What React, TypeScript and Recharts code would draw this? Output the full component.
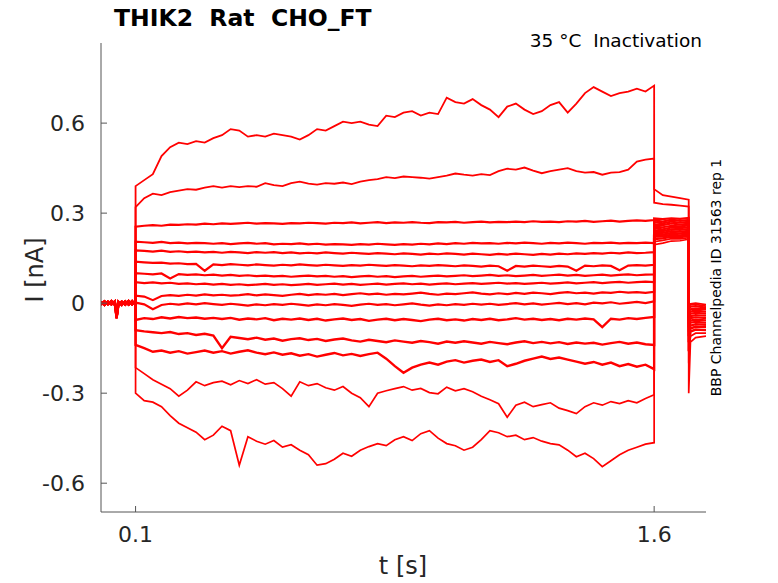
import React from "react";
import { LineChart, Line, XAxis, YAxis } from "recharts";

// holding level before the pre-pulse
const baseTimes = [0, 0.01, 0.02, 0.03, 0.04, 0.045, 0.05, 0.06, 0.07, 0.08, 0.09, 0.1];
const baseline1 = [0.004, -0.006, 0.005, -0.004, 0.006, -0.05, -0.008, 0.005, -0.005, 0.007, -0.004, 0.008];
const baseline2 = [-0.005, 0.006, -0.004, 0.007, -0.006, -0.03, 0.005, -0.006, 0.006, -0.005, 0.007, -0.006];

// pre-pulse, 0.1 .. 1.6 s
const stepTimes = [
  0.1, 0.125, 0.15, 0.175, 0.2, 0.225, 0.25, 0.275, 0.3, 0.325,
  0.35, 0.375, 0.4, 0.425, 0.45, 0.475, 0.5, 0.525, 0.55, 0.575,
  0.6, 0.625, 0.65, 0.675, 0.7, 0.725, 0.75, 0.775, 0.8, 0.825,
  0.85, 0.875, 0.9, 0.925, 0.95, 0.975, 1.0, 1.025, 1.05, 1.075,
  1.1, 1.125, 1.15, 1.175, 1.2, 1.225, 1.25, 1.275, 1.3, 1.325,
  1.35, 1.375, 1.4, 1.425, 1.45, 1.475, 1.5, 1.525, 1.55, 1.575,
  1.6,
];

const traceA = [
  0.39, 0.41, 0.43, 0.49, 0.52, 0.535, 0.53, 0.54, 0.535, 0.55,
  0.56, 0.58, 0.575, 0.555, 0.56, 0.555, 0.565, 0.56, 0.555, 0.545,
  0.56, 0.58, 0.575, 0.59, 0.605, 0.6, 0.605, 0.595, 0.59, 0.625,
  0.62, 0.635, 0.64, 0.625, 0.635, 0.63, 0.685, 0.67, 0.665, 0.68,
  0.66, 0.645, 0.62, 0.655, 0.665, 0.645, 0.63, 0.64, 0.66, 0.67,
  0.635, 0.665, 0.7, 0.72, 0.705, 0.69, 0.7, 0.705, 0.715, 0.705,
  0.725,
];
const traceB = [
  0.32, 0.35, 0.365, 0.36, 0.37, 0.375, 0.38, 0.378, 0.385, 0.39,
  0.385, 0.39, 0.387, 0.39, 0.388, 0.4, 0.393, 0.39, 0.4, 0.405,
  0.398, 0.395, 0.4, 0.398, 0.402, 0.397, 0.405, 0.41, 0.413, 0.42,
  0.417, 0.422, 0.42, 0.418, 0.415, 0.42, 0.425, 0.432, 0.428, 0.425,
  0.43, 0.427, 0.44, 0.448, 0.445, 0.452, 0.442, 0.433, 0.44, 0.445,
  0.45, 0.44, 0.435, 0.437, 0.428, 0.435, 0.437, 0.445, 0.472, 0.478,
  0.482,
];
const traceC = [
  0.255, 0.258, 0.26, 0.258, 0.262, 0.261, 0.263, 0.262, 0.265, 0.263,
  0.266, 0.264, 0.266, 0.268, 0.265, 0.267, 0.266, 0.264, 0.267, 0.266,
  0.268, 0.267, 0.265, 0.268, 0.267, 0.269, 0.266, 0.268, 0.27, 0.267,
  0.269, 0.268, 0.27, 0.268, 0.267, 0.27, 0.269, 0.271, 0.268, 0.27,
  0.272, 0.269, 0.271, 0.27, 0.272, 0.27, 0.273, 0.271, 0.272, 0.27,
  0.273, 0.272, 0.274, 0.271, 0.273, 0.275, 0.272, 0.274, 0.276, 0.274,
  0.277,
];
const traceD = [
  0.205, 0.203, 0.201, 0.204, 0.2, 0.202, 0.199, 0.201, 0.2, 0.198,
  0.2, 0.197, 0.199, 0.201, 0.198, 0.2, 0.196, 0.198, 0.197, 0.199,
  0.196, 0.198, 0.195, 0.197, 0.196, 0.194, 0.197, 0.195, 0.198, 0.196,
  0.194, 0.197, 0.195, 0.198, 0.196, 0.199, 0.197, 0.2, 0.198, 0.201,
  0.199, 0.2, 0.198, 0.201, 0.199, 0.202, 0.2, 0.198, 0.201, 0.199,
  0.202, 0.2, 0.198, 0.201, 0.2, 0.202, 0.199, 0.201, 0.2, 0.202,
  0.2,
];
const traceE = [
  0.176, 0.174, 0.172, 0.175, 0.171, 0.173, 0.17, 0.172, 0.169, 0.171,
  0.168, 0.171, 0.169, 0.167, 0.17, 0.168, 0.17, 0.167, 0.169, 0.166,
  0.168, 0.166, 0.169, 0.167, 0.165, 0.168, 0.166, 0.164, 0.167, 0.165,
  0.163, 0.166, 0.164, 0.162, 0.165, 0.163, 0.166, 0.164, 0.162, 0.165,
  0.163, 0.161, 0.164, 0.162, 0.165, 0.163, 0.161, 0.164, 0.162, 0.165,
  0.163, 0.166, 0.164, 0.167, 0.165, 0.168, 0.166, 0.169, 0.167, 0.168,
  0.17,
];
const traceF = [
  0.138, 0.136, 0.134, 0.135, 0.132, 0.133, 0.13, 0.131, 0.108, 0.129,
  0.127, 0.13, 0.128, 0.126, 0.129, 0.127, 0.125, 0.128, 0.126, 0.129,
  0.127, 0.125, 0.128, 0.126, 0.124, 0.127, 0.125, 0.128, 0.126, 0.124,
  0.127, 0.125, 0.123, 0.126, 0.124, 0.127, 0.125, 0.123, 0.126, 0.124,
  0.122, 0.125, 0.123, 0.108, 0.124, 0.122, 0.125, 0.123, 0.121, 0.124,
  0.122, 0.108, 0.125, 0.123, 0.126, 0.124, 0.11, 0.125, 0.127, 0.125,
  0.128,
];
const traceG = [
  0.1, 0.098, 0.096, 0.099, 0.082, 0.097, 0.094, 0.096, 0.093, 0.095,
  0.092, 0.094, 0.091, 0.093, 0.09, 0.092, 0.089, 0.091, 0.088, 0.09,
  0.092, 0.089, 0.091, 0.088, 0.09, 0.087, 0.089, 0.091, 0.088, 0.09,
  0.087, 0.089, 0.091, 0.088, 0.09, 0.092, 0.089, 0.091, 0.093, 0.09,
  0.092, 0.094, 0.091, 0.093, 0.09, 0.092, 0.094, 0.091, 0.093, 0.095,
  0.092, 0.094, 0.091, 0.093, 0.095, 0.092, 0.094, 0.096, 0.093, 0.095,
  0.096,
];
const traceH = [
  0.07, 0.067, 0.069, 0.066, 0.068, 0.064, 0.066, 0.063, 0.065, 0.062,
  0.064, 0.061, 0.063, 0.06, 0.062, 0.064, 0.061, 0.063, 0.06, 0.062,
  0.064, 0.061, 0.063, 0.065, 0.062, 0.064, 0.061, 0.063, 0.065, 0.062,
  0.064, 0.066, 0.063, 0.065, 0.062, 0.064, 0.066, 0.063, 0.065, 0.067,
  0.064, 0.066, 0.068, 0.065, 0.067, 0.064, 0.066, 0.068, 0.065, 0.067,
  0.069, 0.066, 0.068, 0.07, 0.067, 0.069, 0.071, 0.068, 0.07, 0.072,
  0.07,
];
const traceI = [
  0.025, 0.022, 0.01, 0.024, 0.027, 0.024, 0.028, 0.025, 0.029, 0.026,
  0.028, 0.025, 0.027, 0.03, 0.026, 0.029, 0.027, 0.024, 0.028, 0.031,
  0.027, 0.03, 0.028, 0.031, 0.027, 0.03, 0.033, 0.029, 0.032, 0.028,
  0.031, 0.029, 0.032, 0.035, 0.031, 0.028, 0.032, 0.03, 0.033, 0.036,
  0.032, 0.029, 0.033, 0.03, 0.034, 0.031, 0.035, 0.033, 0.03, 0.034,
  0.037, 0.033, 0.035, 0.032, 0.036, 0.034, 0.038, 0.035, 0.037, 0.034,
  0.038,
];
const traceJ = [
  0.002, -0.004, -0.02, -0.006, -0.002, -0.005, -0.001, -0.004, 0.0, -0.003,
  -0.006, -0.002, -0.005, -0.008, -0.004, -0.007, -0.003, -0.006, -0.002, -0.005,
  -0.008, -0.004, -0.007, -0.003, -0.006, -0.009, -0.005, -0.002, -0.006, -0.003,
  -0.007, -0.004, -0.001, -0.005, -0.008, -0.004, -0.007, -0.003, -0.006, -0.002,
  -0.005, -0.002, -0.006, -0.003, 0.0, -0.004, -0.001, -0.005, -0.002, 0.001,
  -0.003, 0.0, -0.004, 0.002, -0.001, 0.003, -0.002, 0.001, 0.004, 0.0,
  0.006,
];
const traceK = [
  -0.056, -0.05, -0.053, -0.047, -0.051, -0.046, -0.05, -0.048, -0.052, -0.049,
  -0.053, -0.049, -0.055, -0.051, -0.054, -0.05, -0.057, -0.052, -0.055, -0.051,
  -0.056, -0.052, -0.058, -0.054, -0.051, -0.056, -0.053, -0.059, -0.055, -0.052,
  -0.057, -0.053, -0.056, -0.06, -0.055, -0.052, -0.057, -0.054, -0.058, -0.053,
  -0.056, -0.052, -0.057, -0.054, -0.05, -0.055, -0.052, -0.056, -0.053, -0.057,
  -0.052, -0.055, -0.051, -0.054, -0.08, -0.052, -0.055, -0.05, -0.053, -0.049,
  -0.046,
];
const traceL = [
  -0.09, -0.094, -0.097, -0.1, -0.096, -0.103, -0.1, -0.106, -0.102, -0.108,
  -0.15, -0.112, -0.116, -0.12, -0.115, -0.122, -0.118, -0.125, -0.12, -0.117,
  -0.123, -0.119, -0.126, -0.121, -0.118, -0.124, -0.128, -0.122, -0.126, -0.13,
  -0.124, -0.128, -0.132, -0.126, -0.13, -0.135, -0.128, -0.132, -0.127, -0.131,
  -0.135, -0.129, -0.133, -0.137, -0.131, -0.127, -0.133, -0.129, -0.134, -0.13,
  -0.136, -0.131, -0.135, -0.132, -0.138, -0.133, -0.129, -0.135, -0.131, -0.137,
  -0.139,
];
const traceM = [
  -0.139, -0.15, -0.162, -0.158, -0.165, -0.16, -0.168, -0.163, -0.158, -0.165,
  -0.16, -0.168, -0.162, -0.157, -0.165, -0.17, -0.164, -0.172, -0.167, -0.175,
  -0.17, -0.178, -0.172, -0.166, -0.174, -0.169, -0.176, -0.17, -0.165, -0.185,
  -0.21, -0.232, -0.215, -0.205, -0.198, -0.205, -0.195, -0.19, -0.198, -0.192,
  -0.188, -0.196, -0.19, -0.21, -0.202, -0.192, -0.185, -0.178, -0.186, -0.181,
  -0.188, -0.195, -0.202, -0.196, -0.205, -0.198, -0.21, -0.203, -0.212, -0.205,
  -0.22,
];
const traceN = [
  -0.215, -0.235, -0.255, -0.27, -0.285, -0.31, -0.29, -0.262, -0.275, -0.265,
  -0.26, -0.272, -0.258, -0.268, -0.255, -0.27, -0.265, -0.285, -0.31, -0.262,
  -0.275, -0.268, -0.282, -0.29, -0.278, -0.3, -0.315, -0.345, -0.3, -0.292,
  -0.285, -0.278, -0.29, -0.284, -0.298, -0.302, -0.28, -0.292, -0.285, -0.295,
  -0.31, -0.322, -0.335, -0.38, -0.34, -0.33, -0.345, -0.338, -0.332, -0.35,
  -0.358, -0.368, -0.345, -0.332, -0.34, -0.328, -0.335, -0.325, -0.332, -0.318,
  -0.305,
];
const traceO = [
  -0.3, -0.325, -0.33, -0.345, -0.375, -0.4, -0.415, -0.43, -0.455, -0.44,
  -0.41, -0.425, -0.54, -0.445, -0.46, -0.47, -0.458, -0.48, -0.472, -0.49,
  -0.505, -0.54, -0.535, -0.52, -0.5, -0.51, -0.49, -0.478, -0.468, -0.475,
  -0.455, -0.445, -0.458, -0.435, -0.425, -0.45, -0.468, -0.475, -0.49, -0.48,
  -0.455, -0.425, -0.432, -0.445, -0.44, -0.455, -0.448, -0.46, -0.468, -0.472,
  -0.49, -0.512, -0.5, -0.518, -0.545, -0.525, -0.505, -0.49, -0.48, -0.47,
  -0.465,
];

// test pulse 1.6 .. 1.7 s, one value per trace (A..O)
const testTimes = [1.6, 1.625, 1.65, 1.675, 1.7];
const testAt1600 = [0.38, 0.335, 0.282, 0.276, 0.27, 0.262, 0.255, 0.249, 0.242, 0.235, 0.228, 0.222, 0.214, 0.205, 0.195];
const testAt1625 = [0.36, 0.33, 0.28, 0.272, 0.266, 0.26, 0.253, 0.246, 0.24, 0.234, 0.228, 0.222, 0.216, 0.209, 0.2];
const testAt1650 = [0.355, 0.328, 0.283, 0.278, 0.272, 0.266, 0.258, 0.252, 0.246, 0.24, 0.234, 0.228, 0.222, 0.215, 0.207];
const testAt1675 = [0.35, 0.325, 0.281, 0.274, 0.268, 0.262, 0.256, 0.25, 0.244, 0.238, 0.232, 0.226, 0.22, 0.214, 0.208];
const testAt1700 = [0.345, 0.322, 0.284, 0.277, 0.271, 0.265, 0.259, 0.253, 0.247, 0.241, 0.235, 0.229, 0.224, 0.218, 0.213];

// back to holding, 1.7 .. 1.75 s
const endTimes = [1.7, 1.705, 1.72, 1.75];
const endAt1700 = [-0.005, -0.01, -0.02, -0.03, -0.04, -0.05, -0.06, -0.07, -0.08, -0.095, -0.11, -0.13, -0.16, -0.2, -0.3];
const endAt1705 = [-0.002, -0.006, -0.012, -0.02, -0.028, -0.035, -0.043, -0.05, -0.058, -0.065, -0.075, -0.085, -0.095, -0.11, -0.13];
const endAt1720 = [0, -0.004, -0.01, -0.018, -0.025, -0.032, -0.04, -0.047, -0.055, -0.062, -0.07, -0.078, -0.088, -0.1, -0.115];
const endAt1750 = [-0.005, -0.01, -0.015, -0.02, -0.028, -0.035, -0.042, -0.05, -0.057, -0.065, -0.072, -0.08, -0.09, -0.1, -0.11];

const yTicks = [-0.6, -0.3, 0, 0.3, 0.6];
const xTicks = [0.1, 1.6];

const traces = [traceA, traceB, traceC, traceD, traceE, traceF, traceG, traceH, traceI, traceJ, traceK, traceL, traceM, traceN, traceO];
const testCols = [testAt1600, testAt1625, testAt1650, testAt1675, testAt1700];
const endCols = [endAt1700, endAt1705, endAt1720, endAt1750];

const series = traces.map((vals, i) => {
  const base = i % 2 === 0 ? baseline1 : baseline2;
  const pts: { t: number; v: number }[] = [];
  baseTimes.forEach((t, k) => pts.push({ t, v: base[k] }));
  stepTimes.forEach((t, k) => pts.push({ t, v: vals[k] }));
  testTimes.forEach((t, k) => pts.push({ t, v: testCols[k][i] }));
  endTimes.forEach((t, k) => pts.push({ t, v: endCols[k][i] }));
  return pts;
});

const AXIS = "#555555";
const TEXT = "#262626";
const FONT = "DejaVu Sans, sans-serif";

// noisier recordings get a heavier line so they read as a band, like the raw traces
const widthFor = (i: number) => (i < 2 ? 1.8 : i < 10 ? 2.2 : i < 13 ? 2.4 : 1.7);

const YTick = (props: any) => {
  const { x, y, payload } = props;
  return (
    <g>
      <line x1={x + 16} x2={x + 22} y1={y} y2={y} stroke={AXIS} />
      <text x={x} y={y + 8} textAnchor="end" fontSize={22} fontFamily={FONT} fill={TEXT}>
        {String(payload.value)}
      </text>
    </g>
  );
};

const XTick = (props: any) => {
  const { x, y, payload } = props;
  return (
    <g>
      <line x1={x} x2={x} y1={y} y2={y - 6} stroke={AXIS} />
      <text x={x} y={y + 30} textAnchor="middle" fontSize={22} fontFamily={FONT} fill={TEXT}>
        {String(payload.value)}
      </text>
    </g>
  );
};

export default function App() {
  return (
    <div style={{ position: "absolute", left: 0, top: 0, width: 778, height: 583, background: "#fff" }}>
      <LineChart width={778} height={583} margin={{ top: 43, right: 72, bottom: 0, left: 0 }}>
        <XAxis
          type="number"
          dataKey="t"
          domain={[0, 1.75]}
          allowDataOverflow
          ticks={xTicks}
          tick={<XTick />}
          tickSize={0}
          tickMargin={0}
          tickLine={false}
          height={71}
          stroke={AXIS}
        />
        <YAxis
          type="number"
          domain={[-0.696, 0.867]}
          allowDataOverflow
          ticks={yTicks}
          tick={<YTick />}
          tickSize={0}
          tickMargin={16}
          tickLine={false}
          width={101}
          stroke={AXIS}
        />
        {series.map((pts, i) => (
          <Line
            key={i}
            data={pts}
            dataKey="v"
            type="linear"
            stroke="#ff0000"
            strokeWidth={widthFor(i)}
            strokeLinejoin="miter"
            dot={false}
            isAnimationActive={false}
          />
        ))}
      </LineChart>
      <svg
        width={778}
        height={583}
        style={{ position: "absolute", left: 0, top: 0, pointerEvents: "none" }}
        fontFamily={FONT}
      >
        <text x={114} y={26} fontSize={23.5} fontWeight="bold" fill="#000" style={{ whiteSpace: "pre" }}>
          {"THIK2  Rat  CHO_FT"}
        </text>
        <text x={702} y={47} fontSize={18.5} textAnchor="end" fill="#000" style={{ whiteSpace: "pre" }}>
          {"35 °C  Inactivation"}
        </text>
        <text x={403} y={574} fontSize={24} textAnchor="middle" fill={TEXT} style={{ whiteSpace: "pre" }}>
          {"t [s]"}
        </text>
        <text
          x={0}
          y={0}
          fontSize={24}
          textAnchor="middle"
          fill={TEXT}
          transform="translate(43 270) rotate(-90)"
          style={{ whiteSpace: "pre" }}
        >
          {"I [nA]"}
        </text>
        <text
          x={0}
          y={0}
          fontSize={14}
          textAnchor="middle"
          fill="#000"
          transform="translate(721 277.5) rotate(-90)"
        >
          {"BBP Channelpedia ID 31563 rep 1"}
        </text>
      </svg>
    </div>
  );
}
